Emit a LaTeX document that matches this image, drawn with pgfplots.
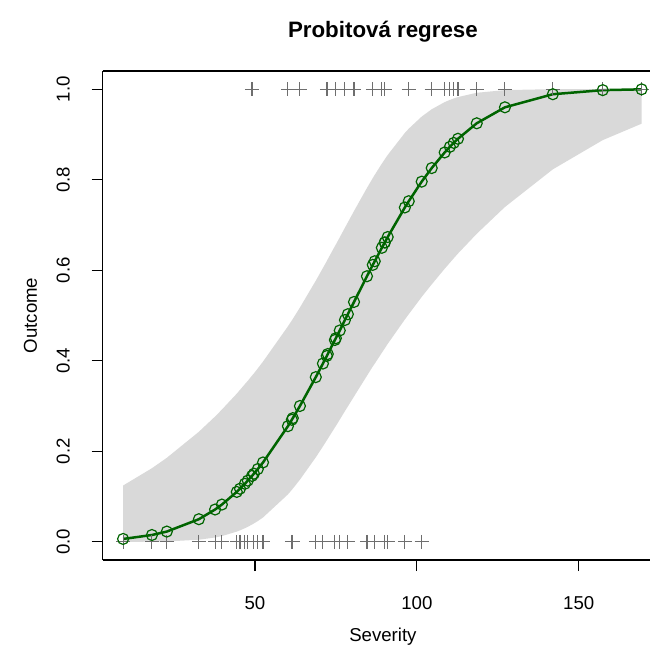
\documentclass[border=0pt]{standalone}
\usepackage{fontspec}
\setmainfont{Liberation Sans}
\usepackage{pgfplots}
\usepackage{pgfplotstable}
\pgfplotsset{compat=1.18}
\usepgfplotslibrary{fillbetween}
\definecolor{bandgray}{HTML}{D9D9D9}
\definecolor{dgreen}{HTML}{006400}
\definecolor{crossgray}{HTML}{6E6E6E}

\pgfplotstableread{
x p lo up
9.3 0.0065 0.00007 0.1245
18.2 0.0152 0.0004 0.1627
22.8 0.0228 0.00095 0.1857
32.7 0.0501 0.0048 0.2432
37.7 0.0715 0.0097 0.2769
39.8 0.0824 0.0128 0.2922
44.4 0.1104 0.0227 0.3274
45.4 0.1174 0.0255 0.3358
46.9 0.1284 0.0302 0.3483
47.8 0.1353 0.0333 0.3557
49.1 0.1457 0.0383 0.3673
49.7 0.1506 0.0408 0.3722
50.9 0.1609 0.0460 0.3832
52.5 0.1754 0.0539 0.3982
60.2 0.2556 0.1049 0.4761
61.4 0.2697 0.1149 0.4892
61.7 0.2733 0.1175 0.4924
63.9 0.3001 0.1374 0.5176
68.8 0.3639 0.1867 0.5769
71.0 0.3939 0.2107 0.6049
72.2 0.4106 0.2242 0.6202
72.5 0.4149 0.2276 0.6244
74.7 0.4459 0.2527 0.6532
75.0 0.4499 0.2559 0.6569
76.2 0.4669 0.2700 0.6726
77.8 0.4900 0.2888 0.6939
78.7 0.5028 0.2991 0.7057
80.6 0.5299 0.3210 0.7307
84.6 0.5867 0.3669 0.7817
86.4 0.6118 0.3874 0.8035
87.0 0.6198 0.3936 0.8106
89.2 0.6495 0.4176 0.8355
90.1 0.6613 0.4274 0.8450
90.1 0.6613 0.4274 0.8450
91.0 0.6733 0.4372 0.8545
96.3 0.7386 0.4912 0.9032
97.5 0.7524 0.5028 0.9126
101.5 0.7956 0.5410 0.9393
104.6 0.8256 0.5687 0.9555
108.6 0.8601 0.6033 0.9713
110.2 0.8725 0.6164 0.9761
111.4 0.8812 0.6263 0.9793
112.7 0.8903 0.6368 0.9824
118.5 0.9245 0.6805 0.9919
127.2 0.9598 0.7396 0.9978
142.0 0.9887 0.8228 0.9999
157.4 0.9977 0.8873 1.0000
169.4 0.9995 0.9236 1.0000
}\fit

\pgfplotstableread{
x y
9.3 0
18.2 0
22.8 0
32.7 0
37.7 0
39.8 0
44.4 0
45.4 0
46.9 0
47.8 0
49.7 0
50.9 0
52.5 0
61.4 0
61.7 0
68.8 0
71.0 0
74.7 0
76.2 0
78.7 0
84.6 0
87.0 0
90.1 0
91.0 0
96.3 0
101.5 0
49.1 1
60.2 1
63.9 1
72.2 1
72.5 1
75.0 1
77.8 1
80.6 1
86.4 1
89.2 1
90.1 1
97.5 1
104.6 1
108.6 1
110.2 1
111.4 1
112.7 1
118.5 1
127.2 1
142.0 1
157.4 1
169.4 1
}\obs

\begin{document}
\begin{tikzpicture}
\begin{axis}[
  scale only axis,
  width=547.3bp, height=489bp,
  xmin=3, xmax=172, ymin=-0.04, ymax=1.04,
  axis x line=box, axis y line=left,
  axis line style={-, line width=1.2bp, black},
  tick pos=left, tick align=outside,
  major tick length=11bp,
  every tick/.style={line width=1.2bp, black},
  xtick={50,100,150}, xticklabels={50,100,150},
  ytick={0,0.2,0.4,0.6,0.8,1}, yticklabels={0.0,0.2,0.4,0.6,0.8,1.0},
  ticklabel style={font=\fontsize{18.7}{22}\selectfont},
  xticklabel style={anchor=base, yshift=-38bp},
  yticklabel style={rotate=90, anchor=base, yshift=22bp},
  clip=false,
]
\coordinate (BL) at (rel axis cs:0,0);
\coordinate (TR) at (rel axis cs:1,1);
\coordinate (T) at (rel axis cs:0.512,1);
\coordinate (B) at (rel axis cs:0.512,0);
\coordinate (L) at (rel axis cs:0,0.5);
\addplot[name path=up, draw=none, forget plot] table[x=x, y=up] {\fit};
\addplot[name path=lo, draw=none, forget plot] table[x=x, y=lo] {\fit};
\addplot[bandgray, draw=none] fill between[of=up and lo];
\addplot[only marks, mark=+, mark size=7bp, crossgray, mark options={line width=1.1bp}] table[x=x, y=y] {\obs};
\addplot[dgreen, line width=2.5bp, mark=o, mark size=5.5bp, mark options={line width=1.2bp, fill=none}] table[x=x, y=p] {\fit};
\end{axis}
\node[anchor=base, font=\bfseries\fontsize{22.4}{26}\selectfont] at ([yshift=33bp]T) {Probitová regrese};
\node[anchor=base, font=\fontsize{18.7}{22}\selectfont] at ([yshift=-81bp]B) {Severity};
\node[anchor=base, rotate=90, font=\fontsize{18.7}{22}\selectfont] at ([xshift=-65.7bp]L) {Outcome};
\pgfresetboundingbox
\path ([shift={(-102.7bp,-92bp)}]BL) rectangle ([shift={(0bp,71bp)}]TR);
\end{tikzpicture}
\end{document}
